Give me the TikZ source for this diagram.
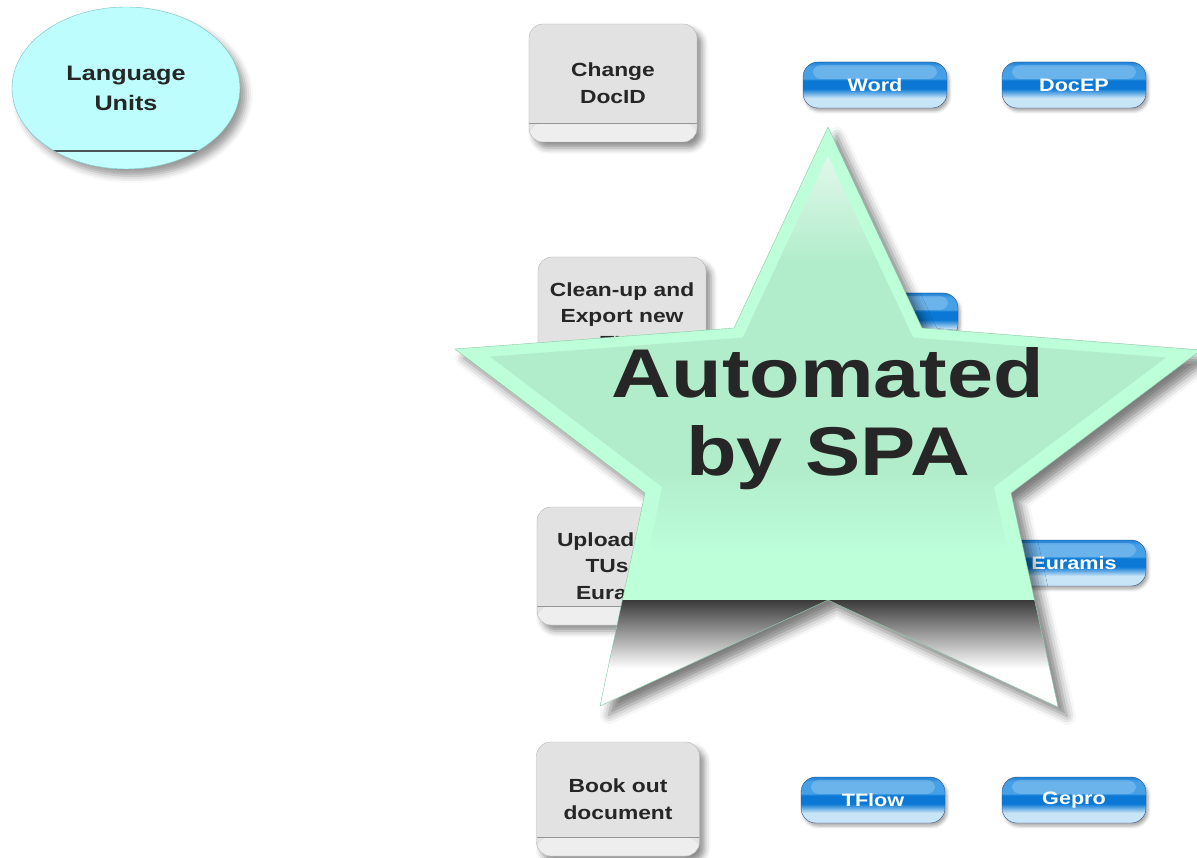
\documentclass[tikz,border=0pt]{standalone}
\usepackage{fontspec}
\newfontfamily\diagfont{Liberation Sans}[FakeStretch=1.2]
\usetikzlibrary{shapes.geometric, positioning, calc, shadows.blur}
\definecolor{ink_gray}{RGB}{38, 38, 38}
\definecolor{unit_cyan}{RGB}{190, 253, 253}
\definecolor{unit_edge}{RGB}{120, 190, 190}
\definecolor{unit_lip_light}{RGB}{196, 255, 255}
\definecolor{unit_lip_mid}{RGB}{130, 165, 165}
\definecolor{unit_lip_dark}{RGB}{75, 85, 85}
\definecolor{task_gray}{RGB}{226, 226, 226}
\definecolor{task_edge}{RGB}{180, 180, 180}
\definecolor{lip_light}{RGB}{238, 238, 238}
\definecolor{lip_mid}{RGB}{200, 200, 200}
\definecolor{lip_dark}{RGB}{150, 150, 150}
\definecolor{tool_blue}{RGB}{10, 120, 212}
\definecolor{tool_gloss}{RGB}{70, 160, 230}
\definecolor{tool_top}{RGB}{30, 128, 212}
\definecolor{tool_pale}{RGB}{200, 228, 247}
\definecolor{tool_edge}{RGB}{50, 85, 135}
\definecolor{mint_light}{RGB}{188, 255, 217}
\definecolor{mint_deep}{RGB}{178, 237, 203}
\definecolor{mint_top}{RGB}{225, 248, 236}
\definecolor{star_edge}{RGB}{140, 200, 165}
\definecolor{shade_dark}{RGB}{58, 58, 58}
\pgfdeclareverticalshading{unitlip}{100bp}{color(0bp)=(unit_lip_light); color(25bp)=(unit_lip_light); color(55bp)=(unit_lip_light); color(68bp)=(unit_lip_mid); color(75bp)=(unit_lip_dark); color(100bp)=(unit_lip_dark)}
\pgfdeclareverticalshading{tasklip}{100bp}{color(0bp)=(lip_light); color(25bp)=(lip_light); color(55bp)=(lip_light); color(68bp)=(lip_mid); color(75bp)=(lip_dark); color(100bp)=(lip_dark)}
\pgfdeclareverticalshading{toolshade}{100bp}{color(0bp)=(tool_pale); color(25bp)=(tool_pale); color(36bp)=(tool_pale); color(46bp)=(tool_blue); color(55bp)=(tool_blue); color(57bp)=(tool_gloss); color(70bp)=(tool_gloss); color(75bp)=(tool_top); color(100bp)=(tool_top)}
\pgfdeclareverticalshading{bevelshade}{100bp}{color(0bp)=(mint_light); color(25bp)=(mint_light); color(37bp)=(mint_light); color(45bp)=(mint_deep); color(65bp)=(mint_deep); color(75bp)=(mint_top); color(100bp)=(mint_top)}
\pgfdeclareverticalshading{fadeshade}{100bp}{color(0bp)=(white); color(25bp)=(white); color(45bp)=(white); color(75bp)=(shade_dark); color(100bp)=(shade_dark)}
\def\starpath{(828,127) -- (922,328) -- (1201,350) -- (1011,493) -- (1058,707) -- (828,600) -- (600,706) -- (645,493) -- (455,349) -- (734,328) -- cycle}

\begin{document}
\begin{tikzpicture}[x=1pt, y=-1pt,
    unit/.style={
        ellipse,
        draw=unit_edge,
        fill=unit_cyan,
        thin,
        minimum width=228pt,
        minimum height=162pt,
        inner sep=0pt,
        text=ink_gray,
        align=center,
        font=\diagfont\bfseries\fontsize{21}{30}\selectfont,
        blur shadow={shadow xshift=6pt, shadow yshift=-7pt, shadow blur radius=7pt, shadow opacity=40},
        path picture={
            \shade[shading=unitlip] ($(path picture bounding box.south west)+(0pt,18pt)$) rectangle (path picture bounding box.south east);
            \draw[unit_lip_dark, line width=2pt] ($(path picture bounding box.south west)+(0pt,17.5pt)$) -- ($(path picture bounding box.south east)+(0pt,17.5pt)$);
        }
    },
    task/.style={
        rectangle,
        rounded corners=14pt,
        draw=task_edge,
        fill=task_gray,
        thin,
        minimum width=168pt,
        minimum height=118pt,
        text=ink_gray,
        align=center,
        font=\diagfont\bfseries\fontsize{19}{26.5}\selectfont,
        blur shadow={shadow xshift=5pt, shadow yshift=-6pt, shadow blur radius=6pt, shadow opacity=45},
        path picture={
            \shade[shading=tasklip] ($(path picture bounding box.south west)+(0pt,19pt)$) rectangle (path picture bounding box.south east);
            \draw[lip_dark, line width=1.6pt] ($(path picture bounding box.south west)+(0pt,18.5pt)$) -- ($(path picture bounding box.south east)+(0pt,18.5pt)$);
        }
    },
    tool/.style={
        rectangle,
        rounded corners=15pt,
        draw=tool_edge,
        shade,
        shading=toolshade,
        thin,
        minimum width=144pt,
        minimum height=46pt,
        text=white,
        font=\diagfont\bfseries\fontsize{18}{22}\selectfont,
        blur shadow={shadow xshift=2pt, shadow yshift=-3pt, shadow blur radius=3pt, shadow opacity=35},
        path picture={\fill[white, opacity=0.2, rounded corners=8pt] ($(path picture bounding box.north west)+(10pt,-3pt)$) rectangle ($(path picture bounding box.north east)+(-10pt,-17pt)$);}
    },
    star_label/.style={
        text=ink_gray,
        align=center,
        font=\diagfont\bfseries\fontsize{69}{78}\selectfont
    }
]
\useasboundingbox (0,0) rectangle (1197,858);

% Ellipse at top left
\node[unit] (units) at (126,88) {Language\\Units};

% Middle column - tasks
\node[task] (docid) at (613,83) {Change\\DocID};
\node[task] (cleanup) at (622,316) {Clean-up and\\Export new\\TUs};
\node[task] (upload) at (621,566) {Upload new\\TUs to\\Euramis};
\node[task, minimum width=163pt, minimum height=114pt] (bookout) at (618,799) {Book out\\document};

% Right side - tools
\node[tool] (word) at (875,85) {Word};
\node[tool] (docep) at (1074,85) {DocEP};
\node[tool] (tmtool) at (886,316) {};
\node[tool] (euramis) at (1074,563) {Euramis};
\node[tool] (tflow) at (873,800) {TFlow};
\node[tool] (gepro) at (1074,800) {Gepro};

% Star on top of everything
\fill[mint_light, blur shadow={shadow xshift=9pt, shadow yshift=-9pt, shadow blur radius=9pt, shadow opacity=50}] \starpath;
\shade[shading=bevelshade, scale around={0.906:(828,430)}] \starpath;
\begin{scope}
    \clip \starpath;
    \shade[shading=fadeshade] (440,600) rectangle (1210,714);
\end{scope}
\draw[star_edge, thin] \starpath;
\node[star_label] (spa) at (828,419) {Automated\\by SPA};

\end{tikzpicture}
\end{document}
